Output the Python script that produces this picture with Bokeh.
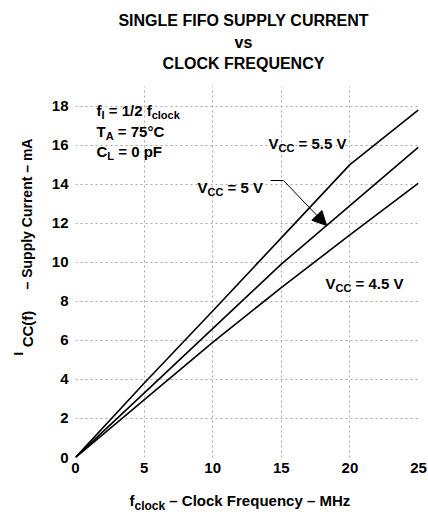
import numpy as np
from bokeh.plotting import figure
from bokeh.layouts import column, row
from bokeh.models import Range1d, FixedTicker, Label, Arrow, NormalHead
from bokeh.embed import file_html
from bokeh.resources import INLINE

# ---- data ----
freq_mhz = [0, 5, 10, 15, 20, 25]
icc_5v5 = [0, 3.8, 7.5, 11.25, 15.0, 17.8]
icc_5v0 = [0, 3.3, 6.6, 9.9, 12.9, 15.9]
icc_4v5 = [0, 2.95, 5.9, 8.7, 11.4, 14.05]
x_ticks = [0, 5, 10, 15, 20, 25]
y_ticks = [0, 2, 4, 6, 8, 10, 12, 14, 16, 18]
title_lines = ["SINGLE FIFO SUPPLY CURRENT", "vs", "CLOCK FREQUENCY"]

FONT = "Liberation Sans"
XMAX, YMAX = 25, 19
TOTAL_W = 428
TITLE_H = 78          # title strip height
YLAB_W = 40           # y-label strip width
FL, FT, FW, FH = 75, 86, 343, 371   # frame position in page pixels
MAIN_BOTTOM = 25
XLAB_H = 36

# ---- main chart ----
p = figure(frame_width=FW, frame_height=FH, output_backend="svg", toolbar_location=None,
           x_range=Range1d(0, XMAX), y_range=Range1d(0, YMAX),
           min_border_left=FL - YLAB_W, min_border_right=TOTAL_W - FL - FW,
           min_border_top=FT - TITLE_H, min_border_bottom=MAIN_BOTTOM)
p.outline_line_color = None
p.background_fill_color = "white"
p.border_fill_color = "white"

for ax, ticks in ((p.xaxis[0], x_ticks), (p.yaxis[0], y_ticks)):
    ax.ticker = FixedTicker(ticks=ticks)
    ax.axis_line_color = None
    ax.major_tick_line_color = None
    ax.minor_tick_line_color = None
    ax.major_tick_in = 0
    ax.major_tick_out = 0
    ax.major_label_text_font = FONT
    ax.major_label_text_font_style = "bold"
    ax.major_label_text_font_size = "15px"
    ax.major_label_text_color = "black"
p.xaxis.major_label_standoff = 5
p.yaxis.major_label_standoff = 7

p.xgrid.ticker = FixedTicker(ticks=x_ticks)
p.ygrid.ticker = FixedTicker(ticks=y_ticks)
for g in (p.xgrid[0], p.ygrid[0]):
    g.grid_line_color = "#a8a8a8"
    g.grid_line_dash = "2 3"
    g.grid_line_width = 1

for ys in (icc_5v5, icc_5v0, icc_4v5):
    p.line(freq_mhz, ys, line_color="black", line_width=1.6)


# ---- text strips (data coordinates == page pixels) ----
def strip(ox, oy, w, h):
    f = figure(width=w, height=h, x_range=Range1d(ox, ox + w), y_range=Range1d(oy + h, oy),
               output_backend="svg", toolbar_location=None, x_axis_type=None,
               y_axis_type=None, min_border=0)
    f.outline_line_color = None
    f.background_fill_color = "white"
    f.border_fill_color = "white"
    return f


main_h = FT + FH + MAIN_BOTTOM - TITLE_H
title_fig = strip(0, 0, TOTAL_W, TITLE_H)
ylab_fig = strip(0, TITLE_H, YLAB_W, main_h)
xlab_fig = strip(0, TITLE_H + main_h, TOTAL_W, XLAB_H)

SX = FW / XMAX
SY = FH / YMAX


def to_main(px, py):
    return (px - FL) / SX, (FT + FH - py) / SY


W = {' ': 278, '\u00a0': 278, '(': 333, ')': 333, '.': 278, '/': 278, '=': 584, '–': 556,
     '°': 400, 'A': 722, 'C': 722, 'F': 611, 'H': 722, 'I': 278, 'L': 611, 'M': 833,
     'Q': 778, 'S': 667, 'T': 611, 'V': 667, 'a': 556, 'c': 556, 'e': 556, 'f': 333,
     'k': 556, 'l': 278, 'm': 889, 'n': 611, 'o': 611, 'p': 611, 'q': 611, 'r': 389,
     't': 333, 'u': 611, 'y': 556, 'z': 500}
for d in "0123456789":
    W[d] = 556


def tw(s, size):
    return sum(W.get(c, 556) for c in s) * size / 1000.0


def add_text(fig, text, px, py, size, align="left", angle=0):
    text = text.replace(" ", "\u00a0")
    x, y = to_main(px, py) if fig is p else (px, py)
    fig.add_layout(Label(x=x, y=y, text=text, text_font=FONT, text_font_style="bold",
                         text_font_size=f"{size}px", text_color="black", text_align=align,
                         text_baseline="alphabetic", angle=angle, angle_units="deg"))


def run(fig, segs, x_px, base_px, size=15, sub=11, sub_drop=4):
    """horizontal run of (text, is_subscript) segments"""
    x = x_px
    for t, is_sub in segs:
        s = sub if is_sub else size
        add_text(fig, t, x, base_px + (sub_drop if is_sub else 0), s)
        x += tw(t, s)


# title
for line, base in zip(title_lines, (20, 42, 63)):
    add_text(title_fig, line, 243, base, 16, align="center")

# conditions
run(p, [("f", False), ("I", True), (" = 1/2 f", False), ("clock", True)], 96, 110)
run(p, [("T", False), ("A", True), (" = 75°C", False)], 96, 131)
run(p, [("C", False), ("L", True), (" = 0 pF", False)], 96, 151)

# curve labels
run(p, [("V", False), ("CC", True), (" = 5.5 V", False)], 268, 143)
run(p, [("V", False), ("CC", True), (" = 5 V", False)], 197, 187)
run(p, [("V", False), ("CC", True), (" = 4.5 V", False)], 325, 283)

# leader + arrow to the 5 V curve
tip_x = 18.3
tip_y = float(np.interp(tip_x, freq_mhz, icc_5v0))
a0 = to_main(270, 180)
a1 = to_main(283, 180)
p.add_layout(Arrow(end=None, x_start=a0[0], y_start=a0[1], x_end=a1[0], y_end=a1[1],
                   line_color="black", line_width=1))
p.add_layout(Arrow(end=NormalHead(size=14, fill_color="black", line_color="black"),
                   x_start=a1[0], y_start=a1[1], x_end=tip_x, y_end=tip_y,
                   line_color="black", line_width=1))

# x axis title
run(xlab_fig, [("f", False), ("clock", True), (" – Clock Frequency – MHz", False)], 129, 500,
    size=15, sub=12, sub_drop=5)

# y axis title (rotated, reads bottom to top)
ybot = 371
add_text(ylab_fig, "I", 18, ybot, 13, angle=90)
add_text(ylab_fig, "CC(f)", 27, ybot - 9, 15, angle=90)
add_text(ylab_fig, "– Supply Current – mA", 26, 299, 14, angle=90)

layout = column(title_fig, row(ylab_fig, p, spacing=0), xlab_fig, spacing=0)

with open("out.html", "w") as f:
    f.write(file_html(layout, INLINE))
